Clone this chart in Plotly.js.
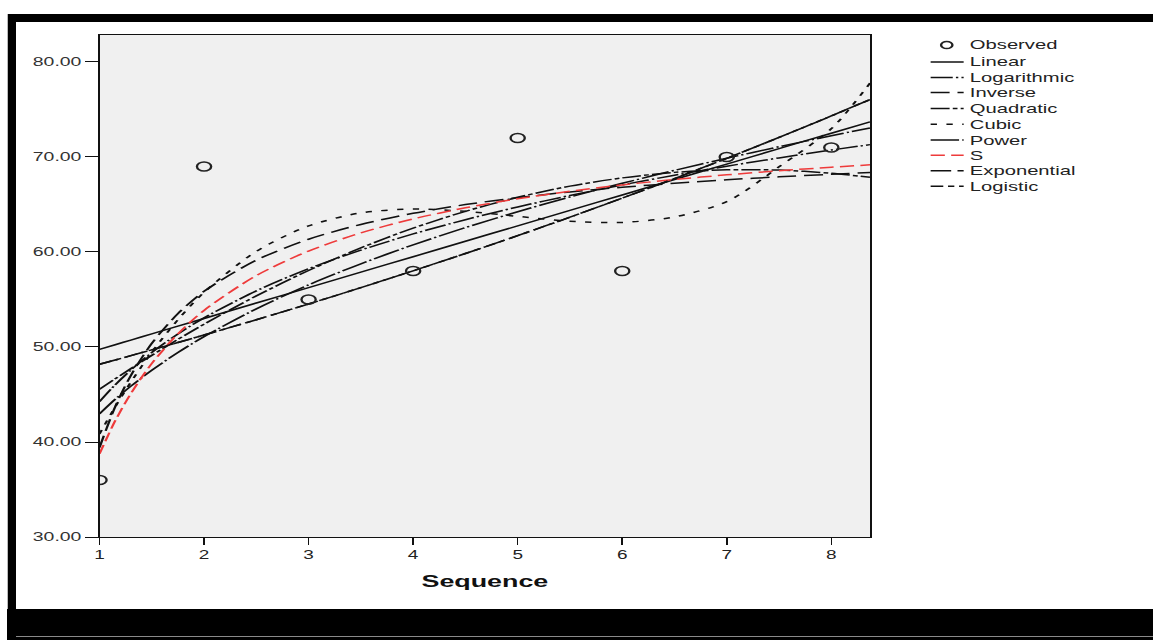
<!DOCTYPE html>
<html>
<head>
<meta charset="utf-8">
<script src="https://cdn.plot.ly/plotly-3.0.1.min.js"></script>
<style>
html,body{margin:0;padding:0;background:#fff;width:1153px;height:640px;overflow:hidden;position:relative}
#topbar{position:absolute;left:7px;top:14px;width:1146px;height:8px;background:#000}
#leftbar{position:absolute;left:7px;top:14px;width:9px;height:626px;background:#000;border-left:1px solid #bbb;box-sizing:border-box}
#botbar{position:absolute;left:7px;top:609px;width:1146px;height:31px;background:#000}
#botline{position:absolute;left:16px;top:636px;width:1137px;height:1px;background:#8a8a8a}
#wrap{position:absolute;left:0;top:0;width:730px;height:640px;transform:scaleX(1.5795);transform-origin:0 0}
#chart{width:730px;height:640px}
</style>
</head>
<body>
<div id="topbar"></div>
<div id="leftbar"></div>
<div id="botbar"></div>
<div id="botline"></div>
<div id="wrap"><div id="chart"></div></div>
<script>
// ---- data ----
const obsX = [1, 2, 3, 4, 5, 6, 7, 8];
const obsY = [36, 69, 55, 58, 72, 58, 70, 71];

const curveX = [1, 1.15, 1.3, 1.5, 1.75, 2, 2.5, 3, 3.5, 4, 4.5, 5, 5.5, 6, 6.5, 7, 7.5, 8, 8.37];
const linear      = [49.75, 50.24, 50.73, 51.38, 52.19, 53.00, 54.63, 56.25, 57.88, 59.50, 61.13, 62.75, 64.38, 66.00, 67.63, 69.25, 70.88, 72.50, 73.70];
const logarithmic = [44.24, 46.02, 47.58, 49.41, 51.37, 53.07, 55.91, 58.24, 60.20, 61.90, 63.40, 64.74, 65.95, 67.06, 68.08, 69.03, 69.90, 70.73, 71.30];
const inverse     = [39.42, 43.71, 47.01, 50.38, 53.51, 55.86, 59.14, 61.34, 62.90, 64.07, 64.99, 65.72, 66.32, 66.81, 67.23, 67.60, 67.91, 68.18, 68.36];
const quadratic   = [45.54, 46.65, 47.72, 49.12, 50.80, 52.40, 55.38, 58.05, 60.43, 62.51, 64.28, 65.76, 66.93, 67.80, 68.38, 68.65, 68.62, 68.29, 67.86];
const cubic       = [40.85, 43.70, 46.30, 49.46, 52.87, 55.75, 60.07, 62.74, 64.12, 64.52, 64.28, 63.75, 63.24, 63.11, 63.69, 65.30, 68.96, 72.98, 77.77];
const power       = [42.97, 44.50, 45.88, 47.55, 49.42, 51.09, 54.02, 56.54, 58.76, 60.75, 62.57, 64.24, 65.79, 67.23, 68.59, 69.87, 71.08, 72.24, 73.06];
const sCurve      = [38.76, 42.23, 45.11, 48.26, 51.38, 53.85, 57.52, 60.10, 62.01, 63.48, 64.65, 65.60, 66.39, 67.06, 67.63, 68.12, 68.55, 68.92, 69.17];
const exponential = [48.18, 48.63, 49.09, 49.70, 50.47, 51.26, 52.87, 54.53, 56.25, 58.02, 59.84, 61.72, 63.66, 65.67, 67.73, 69.86, 72.06, 74.32, 76.05];
const logistic    = [48.18, 48.63, 49.09, 49.70, 50.47, 51.26, 52.87, 54.53, 56.25, 58.02, 59.84, 61.72, 63.66, 65.67, 67.73, 69.86, 72.06, 74.32, 76.05];

const xTicks = [1, 2, 3, 4, 5, 6, 7, 8];
const yTicks = [30, 40, 50, 60, 70, 80];

const curveNames = ['Linear', 'Logarithmic', 'Inverse', 'Quadratic', 'Cubic', 'Power', 'S', 'Exponential', 'Logistic'];
const curveValues = [linear, logarithmic, inverse, quadratic, cubic, power, sCurve, exponential, logistic];

// ---- styles ----
const BLACK = '#111';
const RED = '#ee3b3b';
const styles = {
  'Linear':      {color: BLACK, dash: 'solid'},
  'Logarithmic': {color: BLACK, dash: '14px,2px,1.5px,2px'},
  'Inverse':     {color: BLACK, dash: '12px,5px'},
  'Quadratic':   {color: BLACK, dash: '12px,2px,3px,2px'},
  'Cubic':       {color: BLACK, dash: '4px,6px'},
  'Power':       {color: BLACK, dash: '18px,2px,1.5px,2px'},
  'S':           {color: RED,   dash: '9px,4px'},
  'Exponential': {color: BLACK, dash: '13px,4px'},
  'Logistic':    {color: BLACK, dash: '8px,3px,4px,3px'}
};
const FONT = 'Liberation Sans, Arial, sans-serif';

const traces = curveNames.map((n, i) => ({
  type: 'scatter', mode: 'lines', name: n,
  x: curveX, y: curveValues[i],
  line: {color: styles[n].color, dash: styles[n].dash, width: 1.5, shape: 'spline', smoothing: 0.8},
  hoverinfo: 'skip'
}));
traces.push({
  type: 'scatter', mode: 'markers', name: 'Observed',
  x: obsX, y: obsY,
  marker: {symbol: 'circle-open', size: 9, color: '#222', line: {width: 1.5, color: '#222'}},
  cliponaxis: true
});

// ---- custom legend (compact, SPSS style) ----
const plotL = 63, plotW = 488, plotB = 537, plotH = 502;
const px2x = p => (p - plotL) / plotW;
const py2y = p => (plotB - p) / plotH;
const legRowsY = [45, 62, 77.5, 92.5, 108.5, 124.3, 140, 155.3, 170.7, 186.3];
const legLineX0 = 589.2, legLineX1 = 610.1, legTextX = 611.6, legCircX = 599.4;
const legendNames = ['Observed'].concat(curveNames);

const shapes = [];
const annotations = [];
legendNames.forEach((n, i) => {
  const yy = py2y(legRowsY[i]);
  if (n === 'Observed') {
    shapes.push({type: 'circle', xref: 'paper', yref: 'paper', xsizemode: 'pixel', ysizemode: 'pixel',
      xanchor: px2x(legCircX), yanchor: yy, x0: -3.6, x1: 3.6, y0: -3.6, y1: 3.6,
      line: {color: '#222', width: 1.5}});
  } else {
    shapes.push({type: 'line', xref: 'paper', yref: 'paper',
      x0: px2x(legLineX0), x1: px2x(legLineX1), y0: yy, y1: yy,
      line: {color: styles[n].color, dash: styles[n].dash, width: 1.5}});
  }
  annotations.push({xref: 'paper', yref: 'paper', x: px2x(legTextX), y: yy, xanchor: 'left', yanchor: 'middle',
    text: n, showarrow: false, font: {family: FONT, size: 12.8, color: '#222'}});
});

const layout = {
  width: 730, height: 640,
  margin: {l: plotL, r: 730 - plotL - plotW, t: 35, b: 640 - plotB, pad: 0},
  paper_bgcolor: 'rgba(0,0,0,0)',
  plot_bgcolor: '#f0f0f0',
  showlegend: false,
  font: {family: FONT, size: 12, color: '#222'},
  xaxis: {
    range: [1, 8.373], tickvals: xTicks, ticktext: xTicks.map(String),
    ticks: 'outside', ticklen: 7, tickwidth: 1, tickcolor: '#111',
    showline: true, linecolor: '#111', linewidth: 1, mirror: true,
    showgrid: false, zeroline: false, automargin: false,
    tickfont: {family: FONT, size: 12, color: '#222'},
    title: {text: '<b>Sequence</b>', font: {family: FONT, size: 17, color: '#111'}, standoff: 13}
  },
  yaxis: {
    range: [30, 82.84], tickvals: yTicks, tickformat: '.2f',
    ticks: 'outside', ticklen: 8, tickwidth: 1, tickcolor: '#111',
    showline: true, linecolor: '#111', linewidth: 1, mirror: true,
    showgrid: false, zeroline: false, automargin: false,
    tickfont: {family: FONT, size: 12.3, color: '#333'}
  },
  shapes: shapes,
  annotations: annotations
};

Plotly.newPlot('chart', traces, layout, {displayModeBar: false, staticPlot: true});
</script>
</body>
</html>
